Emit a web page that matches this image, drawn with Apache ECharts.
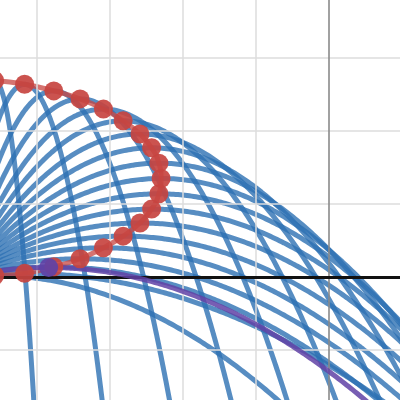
<!DOCTYPE html>
<html>
<head>
<meta charset="utf-8">
<script src="https://cdn.jsdelivr.net/npm/echarts@6/dist/echarts.min.js"></script>
<style>html,body{margin:0;padding:0;background:#fff;}#c{width:400px;height:400px;}</style>
</head>
<body>
<div id="c"></div>
<script>
// Launch point of all trajectories (data units)
const launchPoint = [-5, 0];
// Apex (highest point) of each blue trajectory
const apexX = [-4.58, -4.17, -3.77, -3.41, -3.09, -2.82, -2.59, -2.43, -2.33, -2.30,
               -2.33, -2.43, -2.59, -2.82, -3.09, -3.41, -3.77, -4.17, -4.58];
const apexY = [0.02, 0.05, 0.14, 0.25, 0.40, 0.56, 0.74, 0.93, 1.14, 1.35,
               1.56, 1.77, 1.96, 2.14, 2.30, 2.44, 2.55, 2.64, 2.69];
// Ends of the red apex curve (flat launch and vertical launch)
const apexCurveStart = [-5, 0];
const apexCurveEnd = [-5, 2.70];
// Highlighted (purple) trajectory apex
const purpleApex = [-3.84, 0.13];
// Grid lines
const gridX = [-4, -3, -2, -1];
const gridY = [-1, 1, 2, 3];
const axisX = 0;   // vertical axis
const groundY = 0; // black ground line

const X_MIN = -4.507, X_MAX = 0.973, Y_MIN = -1.685, Y_MAX = 3.795;

function trajectory(ax, ay) {
  const x0 = launchPoint[0], y0 = launchPoint[1];
  const a = (ay - y0) / Math.pow(ax - x0, 2);
  const yEnd = Y_MIN - 0.2;
  let xEnd = ax + Math.sqrt((ay - yEnd) / a);
  if (xEnd > X_MAX + 0.2) xEnd = X_MAX + 0.2;
  const pts = [];
  const N = 400;
  for (let i = 0; i <= N; i++) {
    const x = x0 + (xEnd - x0) * i / N;
    pts.push([x, ay - a * (x - ax) * (x - ax)]);
  }
  return pts;
}

const series = [];
// grid lines
series.push({
  type: 'line', data: [], z: 0, silent: true,
  markLine: {
    silent: true, symbol: 'none', animation: false,
    label: { show: false },
    lineStyle: { color: '#dcdcdc', width: 1.5, type: 'solid' },
    data: gridX.map(v => ({ xAxis: v })).concat(gridY.map(v => ({ yAxis: v })))
  }
});
// vertical axis
series.push({
  type: 'line', data: [], z: 1, silent: true,
  markLine: {
    silent: true, symbol: 'none', animation: false,
    label: { show: false },
    lineStyle: { color: '#8a8a8a', width: 1.6, type: 'solid' },
    data: [{ xAxis: axisX }]
  }
});
// ground line (black)
series.push({
  type: 'line', data: [], z: 2, silent: true,
  markLine: {
    silent: true, symbol: 'none', animation: false,
    label: { show: false },
    lineStyle: { color: '#111111', width: 3, type: 'solid' },
    data: [{ yAxis: groundY }]
  }
});
// blue trajectories
for (let i = 0; i < apexX.length; i++) {
  series.push({
    type: 'line', z: 3, showSymbol: false, silent: true, animation: false,
    data: trajectory(apexX[i], apexY[i]),
    lineStyle: { color: '#2d70b3', width: 5, opacity: 0.8 }
  });
}
// red apex curve
const redCurve = [apexCurveStart].concat(apexX.map((x, i) => [x, apexY[i]])).concat([apexCurveEnd]);
series.push({
  type: 'line', z: 4, showSymbol: false, silent: true, animation: false, smooth: 0.5,
  data: redCurve,
  lineStyle: { color: '#c74440', width: 5, opacity: 0.75 }
});
// purple trajectory
series.push({
  type: 'line', z: 5, showSymbol: false, silent: true, animation: false,
  data: trajectory(purpleApex[0], purpleApex[1]),
  lineStyle: { color: '#6042a6', width: 5, opacity: 0.85 }
});
// red apex points
series.push({
  type: 'scatter', z: 6, silent: true, animation: false, clip: false,
  symbolSize: 19,
  data: apexX.map((x, i) => [x, apexY[i]]),
  itemStyle: { color: '#c74440', opacity: 0.92 }
});
// purple point
series.push({
  type: 'scatter', z: 7, silent: true, animation: false, clip: false,
  symbolSize: 19,
  data: [purpleApex],
  itemStyle: { color: '#6042a6', opacity: 0.92 }
});

const chart = echarts.init(document.getElementById('c'), null, { renderer: 'canvas' });
chart.setOption({
  animation: false,
  backgroundColor: '#ffffff',
  grid: { left: 0, right: 0, top: 0, bottom: 0, containLabel: false },
  xAxis: {
    type: 'value', min: X_MIN, max: X_MAX,
    axisLine: { show: false }, axisTick: { show: false }, axisLabel: { show: false }, splitLine: { show: false }
  },
  yAxis: {
    type: 'value', min: Y_MIN, max: Y_MAX,
    axisLine: { show: false }, axisTick: { show: false }, axisLabel: { show: false }, splitLine: { show: false }
  },
  series: series
});
</script>
</body>
</html>
